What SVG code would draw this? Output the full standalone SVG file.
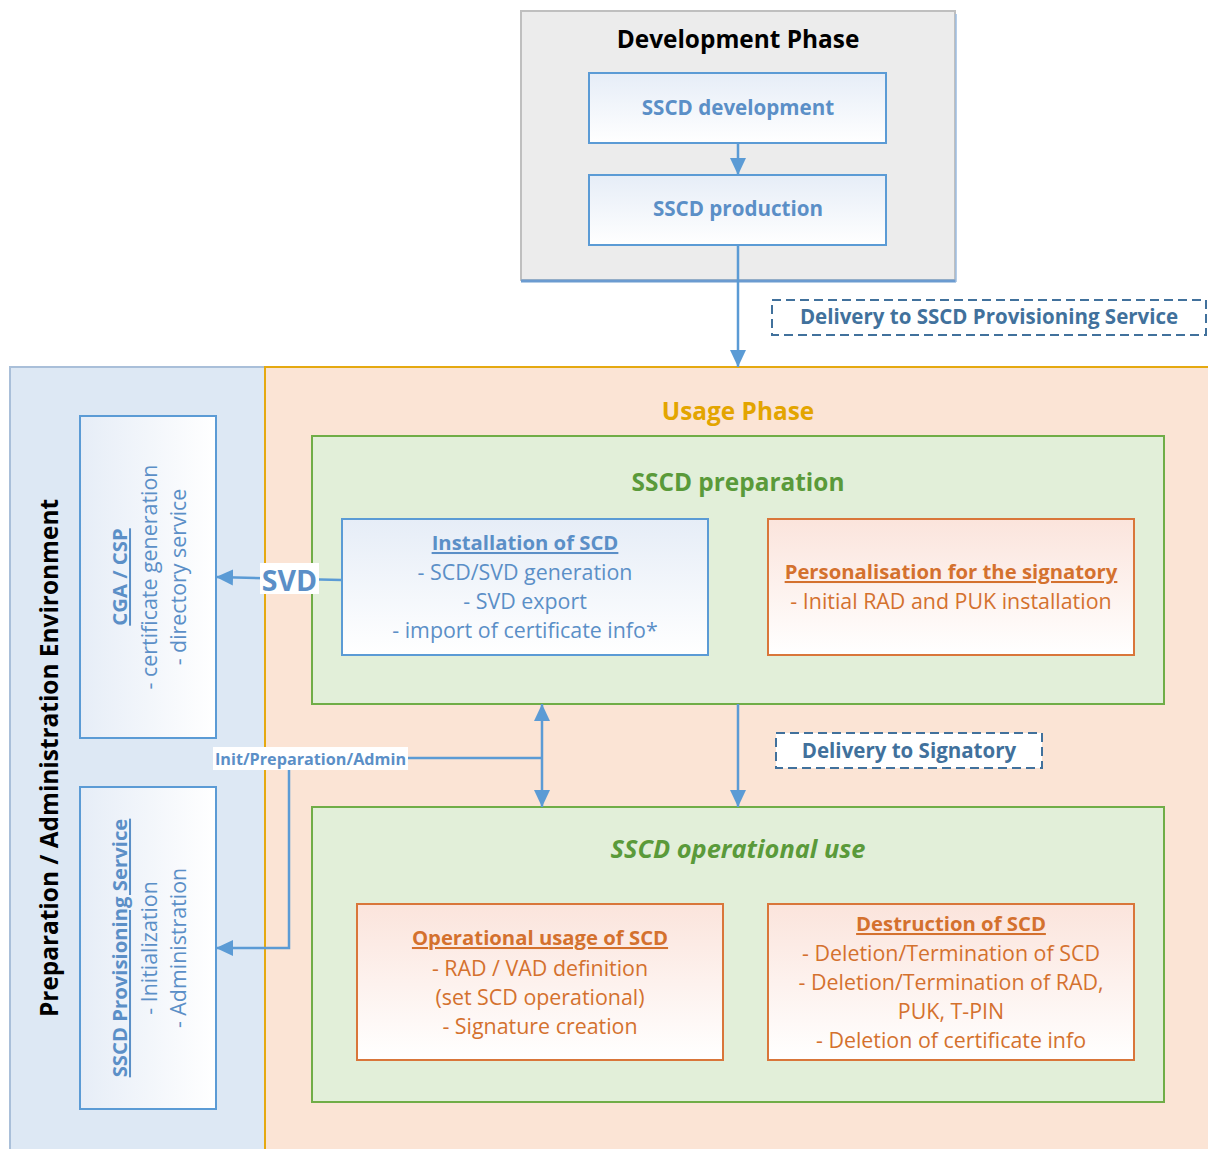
<svg xmlns="http://www.w3.org/2000/svg" width="1208" height="1149" viewBox="0 0 1208 1149">
<style>
text{font-family:"Open Sans","Liberation Sans",sans-serif;}
.bt{fill:#5b8fc7;font-size:21.4px;text-anchor:middle;}
.ot{fill:#d4712e;font-size:21.4px;text-anchor:middle;}
.b{font-weight:bold;font-size:20.3px;}
.u{text-decoration:underline;}
.bluebox{fill:url(#gb);stroke:#5b9bd5;stroke-width:2;}
.orbox{fill:url(#go);stroke:#d9763a;stroke-width:2;}
.sidebox{fill:url(#gs);stroke:#5b9bd5;stroke-width:2;}
.dash{fill:#fff;stroke:#41719c;stroke-width:2;stroke-dasharray:9 5;}
.dl{fill:#41719c;font-size:20.5px;font-weight:bold;text-anchor:middle;}
.con{stroke:#5b9bd5;stroke-width:2.5;fill:none;}
.h{font-size:24.4px;font-weight:bold;text-anchor:middle;}
</style>
<defs>
<linearGradient id="gb" x1="0" y1="0" x2="0" y2="1"><stop offset="0" stop-color="#e6edf7"/><stop offset="1" stop-color="#ffffff"/></linearGradient>
<linearGradient id="go" x1="0" y1="0" x2="0" y2="1"><stop offset="0" stop-color="#fbe4dc"/><stop offset="1" stop-color="#ffffff"/></linearGradient>
<linearGradient id="gs" x1="0" y1="0" x2="1" y2="0"><stop offset="0" stop-color="#e6edf7"/><stop offset="1" stop-color="#ffffff"/></linearGradient>
<marker id="ah" markerUnits="userSpaceOnUse" markerWidth="18" markerHeight="18" viewBox="0 0 18 18" refX="17" refY="9" orient="auto-start-reverse"><path d="M0,1 L17,9 L0,17 Z" fill="#5b9bd5"/></marker>
</defs>

<g id="dev-phase">
<rect x="521" y="11" width="434" height="269" fill="#ececec" stroke="#bfbfbf" stroke-width="2"/>
<line x1="521" y1="281" x2="956" y2="281" stroke="#6b9bd0" stroke-width="3"/>
<line x1="956" y1="14" x2="956" y2="282" stroke="#9cbde0" stroke-width="1.5"/>
<text class="h" x="738" y="48" fill="#000">Development Phase</text>
</g>
<g id="sscd-development">
<rect class="bluebox" x="589" y="73" width="297" height="70"/>
<text class="bt b" x="738" y="115" style="font-size:20.6px">SSCD development</text>
</g>
<g id="sscd-production">
<rect class="bluebox" x="589" y="175" width="297" height="70"/>
<text class="bt b" x="738" y="216" style="font-size:20.6px">SSCD production</text>
</g>

<g id="prep-admin-env">
<rect x="10" y="367" width="255" height="790" fill="#dde8f4" stroke="#a9bfd9" stroke-width="2"/>
<text class="h" transform="translate(58 758) rotate(-90)" fill="#000">Preparation / Administration Environment</text>
</g>
<g id="usage-phase">
<rect x="265" y="367" width="950" height="790" fill="#fbe4d5" stroke="#e5a910" stroke-width="2"/>
<text class="h" x="738" y="420" fill="#e3a500">Usage Phase</text>
</g>

<g id="delivery-provisioning">
<rect class="dash" x="772" y="300" width="434" height="35"/>
<text class="dl" x="989" y="324">Delivery to SSCD Provisioning Service</text>
</g>

<g id="sscd-preparation">
<rect x="312" y="436" width="852" height="268" fill="#e2efd9" stroke="#70ad47" stroke-width="2"/>
<text class="h" x="738" y="491" fill="#5a9a3a">SSCD preparation</text>
</g>
<g id="installation-scd">
<rect class="bluebox" x="342" y="519" width="366" height="136"/>
<text class="bt b u" x="525" y="550">Installation of SCD</text>
<text class="bt" x="525" y="580">- SCD/SVD generation</text>
<text class="bt" x="525" y="609">- SVD export</text>
<text class="bt" x="525" y="638">- import of certificate info*</text>
</g>
<g id="personalisation">
<rect class="orbox" x="768" y="519" width="366" height="136"/>
<text class="ot b u" x="951" y="579">Personalisation for the signatory</text>
<text class="ot" x="951" y="609">- Initial RAD and PUK installation</text>
</g>

<g id="sscd-operational">
<rect x="312" y="807" width="852" height="295" fill="#e2efd9" stroke="#70ad47" stroke-width="2"/>
<text class="h" x="738" y="858" font-style="italic" fill="#5a9a3a" style="font-size:25.4px">SSCD operational use</text>
</g>
<g id="operational-usage">
<rect class="orbox" x="357" y="904" width="366" height="156"/>
<text class="ot b u" x="540" y="945">Operational usage of SCD</text>
<text class="ot" x="540" y="976">- RAD / VAD definition</text>
<text class="ot" x="540" y="1005">(set SCD operational)</text>
<text class="ot" x="540" y="1034">- Signature creation</text>
</g>
<g id="destruction">
<rect class="orbox" x="768" y="904" width="366" height="156"/>
<text class="ot b u" x="951" y="931">Destruction of SCD</text>
<text class="ot" x="951" y="961">- Deletion/Termination of SCD</text>
<text class="ot" x="951" y="990">- Deletion/Termination of RAD,</text>
<text class="ot" x="951" y="1019">PUK, T-PIN</text>
<text class="ot" x="951" y="1048">- Deletion of certificate info</text>
</g>

<g id="cga-csp">
<rect class="sidebox" x="80" y="416" width="136" height="322"/>
<g transform="translate(0 577) rotate(-90)">
<text class="bt b u" x="0" y="127">CGA / CSP</text>
<text class="bt" x="0" y="157">- certificate generation</text>
<text class="bt" x="0" y="186">- directory service</text>
</g>
</g>
<g id="provisioning-service">
<rect class="sidebox" x="80" y="787" width="136" height="322"/>
<g transform="translate(0 948) rotate(-90)">
<text class="bt b u" x="0" y="127">SSCD Provisioning Service</text>
<text class="bt" x="0" y="157">- Initialization</text>
<text class="bt" x="0" y="186">- Administration</text>
</g>
</g>

<g id="delivery-signatory">
<rect class="dash" x="776" y="733" width="266" height="35"/>
<text class="dl" x="909" y="758">Delivery to Signatory</text>
</g>

<g id="connectors">
<line class="con" x1="738" y1="143" x2="738" y2="175" marker-end="url(#ah)"/>
<line class="con" x1="738" y1="245" x2="738" y2="367" marker-end="url(#ah)"/>
<line class="con" x1="738" y1="704" x2="738" y2="807" marker-end="url(#ah)"/>
<line class="con" x1="542" y1="704" x2="542" y2="807" marker-start="url(#ah)" marker-end="url(#ah)"/>
<line class="con" x1="408" y1="758" x2="542" y2="758"/>
<polyline class="con" points="289,768 289,948 216,948" marker-end="url(#ah)"/>
<line class="con" x1="342" y1="580" x2="216" y2="577" marker-end="url(#ah)"/>
<rect x="260" y="563" width="59" height="31" fill="#fff"/>
<text x="289.5" y="591" font-size="28.5" font-weight="bold" text-anchor="middle" fill="#5b8fc7">SVD</text>
<rect x="213" y="747" width="195" height="23" fill="#fff"/>
<text x="310.5" y="764.5" font-size="16.2" font-weight="bold" text-anchor="middle" fill="#5b8fc7">Init/Preparation/Admin</text>
</g>
</svg>
